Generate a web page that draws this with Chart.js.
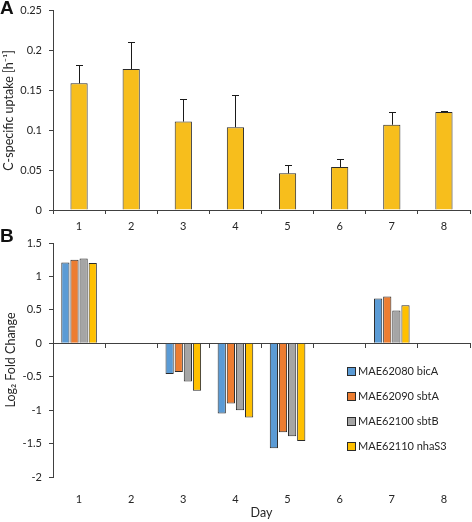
<!DOCTYPE html>
<html>
<head>
<meta charset="utf-8">
<script src="https://cdn.jsdelivr.net/npm/chart.js@4.4.1/dist/chart.umd.min.js"></script>
<style>
  html, body { margin: 0; padding: 0; background: #fff; }
  #wrap { position: relative; width: 472px; height: 522px; overflow: hidden; }
  canvas { position: absolute; left: 0; }
  #chartA { top: 0; }
  #chartB { top: 232px; }
  .panel { position: absolute; left: 0; font: bold 19px "Liberation Sans", Arial, sans-serif; color: #111; }
</style>
</head>
<body>
<div id="wrap">
  <canvas id="chartA" width="472" height="232"></canvas>
  <canvas id="chartB" width="472" height="290"></canvas>
  <div class="panel" style="top:-3px">A</div>
  <div class="panel" style="top:225px">B</div>
</div>
<script>
// Panel A: C-specific uptake per day
const days = ['1', '2', '3', '4', '5', '6', '7', '8'];
const uptake = [0.159, 0.177, 0.111, 0.104, 0.046, 0.054, 0.107, 0.123];
const uptakeErr = [0.023, 0.034, 0.028, 0.040, 0.010, 0.010, 0.016, 0.001];
const uptakeTicks = [0, 0.05, 0.1, 0.15, 0.2, 0.25];

// Panel B: log2 fold change per gene
const geneNames = ['MAE62080 bicA', 'MAE62090 sbtA', 'MAE62100 sbtB', 'MAE62110 nhaS3'];
const bicA = [1.21, null, -0.46, -1.05, -1.57, null, 0.67, null];
const sbtA = [1.25, null, -0.43, -0.90, -1.33, null, 0.70, null];
const sbtB = [1.27, null, -0.57, -1.00, -1.39, null, 0.49, null];
const nhaS3 = [1.20, null, -0.71, -1.11, -1.46, null, 0.57, null];
const foldTicks = [1.5, 1, 0.5, 0, -0.5, -1, -1.5, -2];

const geneColors = ['#5B9BD5', '#ED7D31', '#A5A5A5', '#FFC000'];
const FONT = 'Lato, "Open Sans", sans-serif';
const TEXT = '#262626';
const AXIS = '#404040';

Chart.defaults.font.family = FONT;
Chart.defaults.font.size = 11;
Chart.defaults.color = TEXT;
Chart.defaults.animation = false;

const fmt = v => String(+v.toFixed(2));

// upper-only error bars drawn through the y scale
const errorBars = {
    id: 'errorBars',
    afterDatasetsDraw(chart) {
        const ctx = chart.ctx;
        const yScale = chart.scales.y;
        const meta = chart.getDatasetMeta(0);
        ctx.save();
        ctx.strokeStyle = '#1a1a1a';
        ctx.lineWidth = 1;
        meta.data.forEach((bar, i) => {
            const x = Math.round(bar.x) + 0.5;
            const yTop = Math.round(yScale.getPixelForValue(uptake[i] + uptakeErr[i])) + 0.5;
            ctx.beginPath();
            ctx.moveTo(x, bar.y);
            ctx.lineTo(x, yTop);
            ctx.moveTo(x - 3.5, yTop);
            ctx.lineTo(x + 3.5, yTop);
            ctx.stroke();
        });
        ctx.restore();
    }
};

new Chart(document.getElementById('chartA'), {
    type: 'bar',
    data: {
        labels: days,
        datasets: [{
            data: uptake,
            backgroundColor: '#F7BE1C',
            borderColor: '#2b2b2b',
            borderWidth: 1,
            borderSkipped: 'start',
            categoryPercentage: 1,
            barPercentage: 0.33
        }]
    },
    options: {
        responsive: false,
        layout: { padding: { top: 5, right: 2, left: 0, bottom: 0 } },
        plugins: { legend: { display: false }, tooltip: { enabled: false } },
        scales: {
            x: {
                offset: true,
                grid: { offset: true, drawOnChartArea: false, drawTicks: true, tickLength: 4, color: AXIS },
                border: { display: true, color: AXIS, width: 1 },
                ticks: { padding: 6 },
                afterFit: s => { s.height = 22; }
            },
            y: {
                min: 0,
                max: 0.25,
                afterBuildTicks: s => { s.ticks = uptakeTicks.map(v => ({ value: v })); },
                grid: { drawOnChartArea: false, drawTicks: true, tickLength: 4, color: AXIS },
                border: { display: true, color: AXIS, width: 1 },
                ticks: { padding: 7, callback: fmt, font: { lineHeight: 0.7 } },
                title: {
                    display: true,
                    text: 'C-specific uptake [h\u207B\u00B9]',
                    font: { size: 12.5 },
                    padding: { top: 1, bottom: 0 }
                },
                afterFit: s => { s.width = 53; }
            }
        }
    },
    plugins: [errorBars]
});

// legend drawn inside the plot area of panel B
const insideLegend = {
    id: 'insideLegend',
    afterDraw(chart) {
        const ctx = chart.ctx;
        const area = chart.chartArea;
        const x0 = area.left + 294;
        const y0 = area.top + 127.5;
        ctx.save();
        ctx.font = '11px ' + FONT;
        ctx.textBaseline = 'middle';
        chart.data.datasets.forEach((ds, i) => {
            const y = Math.round(y0 + i * 25);
            ctx.fillStyle = ds.backgroundColor;
            ctx.fillRect(x0, y - 4, 8, 8);
            ctx.strokeStyle = '#2b2b2b';
            ctx.lineWidth = 1;
            ctx.strokeRect(x0 + 0.5, y - 3.5, 8, 8);
            ctx.fillStyle = TEXT;
            ctx.fillText(ds.label, x0 + 11, y);
        });
        ctx.restore();
    }
};

const geneSeries = [bicA, sbtA, sbtB, nhaS3];

new Chart(document.getElementById('chartB'), {
    type: 'bar',
    data: {
        labels: days,
        datasets: geneSeries.map((vals, i) => ({
            label: geneNames[i],
            data: vals,
            backgroundColor: geneColors[i],
            borderColor: '#2b2b2b',
            borderWidth: 1,
            borderSkipped: 'start',
            categoryPercentage: 0.7,
            barPercentage: 0.9
        }))
    },
    options: {
        responsive: false,
        layout: { padding: { top: 11, right: 2, left: 0, bottom: 0 } },
        plugins: { legend: { display: false }, tooltip: { enabled: false } },
        scales: {
            x: {
                offset: true,
                grid: { display: false },
                border: { display: false },
                ticks: { padding: 8 },
                title: { display: true, text: 'Day', font: { size: 12.5 }, padding: { top: 0, bottom: 1.5 } },
                afterFit: s => { s.height = 45; }
            },
            zero: {
                type: 'category',
                axis: 'x',
                position: { y: 0 },
                offset: true,
                grid: { offset: true, drawOnChartArea: false, drawTicks: true, tickLength: 4, color: AXIS },
                border: { display: true, color: AXIS, width: 1 },
                ticks: { display: false }
            },
            y: {
                min: -2,
                max: 1.5,
                afterBuildTicks: s => { s.ticks = foldTicks.map(v => ({ value: v })); },
                grid: { drawOnChartArea: false, drawTicks: true, tickLength: 4, color: AXIS },
                border: { display: true, color: AXIS, width: 1 },
                ticks: { padding: 7, callback: fmt, font: { lineHeight: 0.7 } },
                title: {
                    display: true,
                    text: 'Log\u2082 Fold Change',
                    font: { size: 12.5 },
                    padding: { top: 3, bottom: 0 }
                },
                afterFit: s => { s.width = 53; }
            }
        }
    },
    plugins: [insideLegend]
});
</script>
</body>
</html>
